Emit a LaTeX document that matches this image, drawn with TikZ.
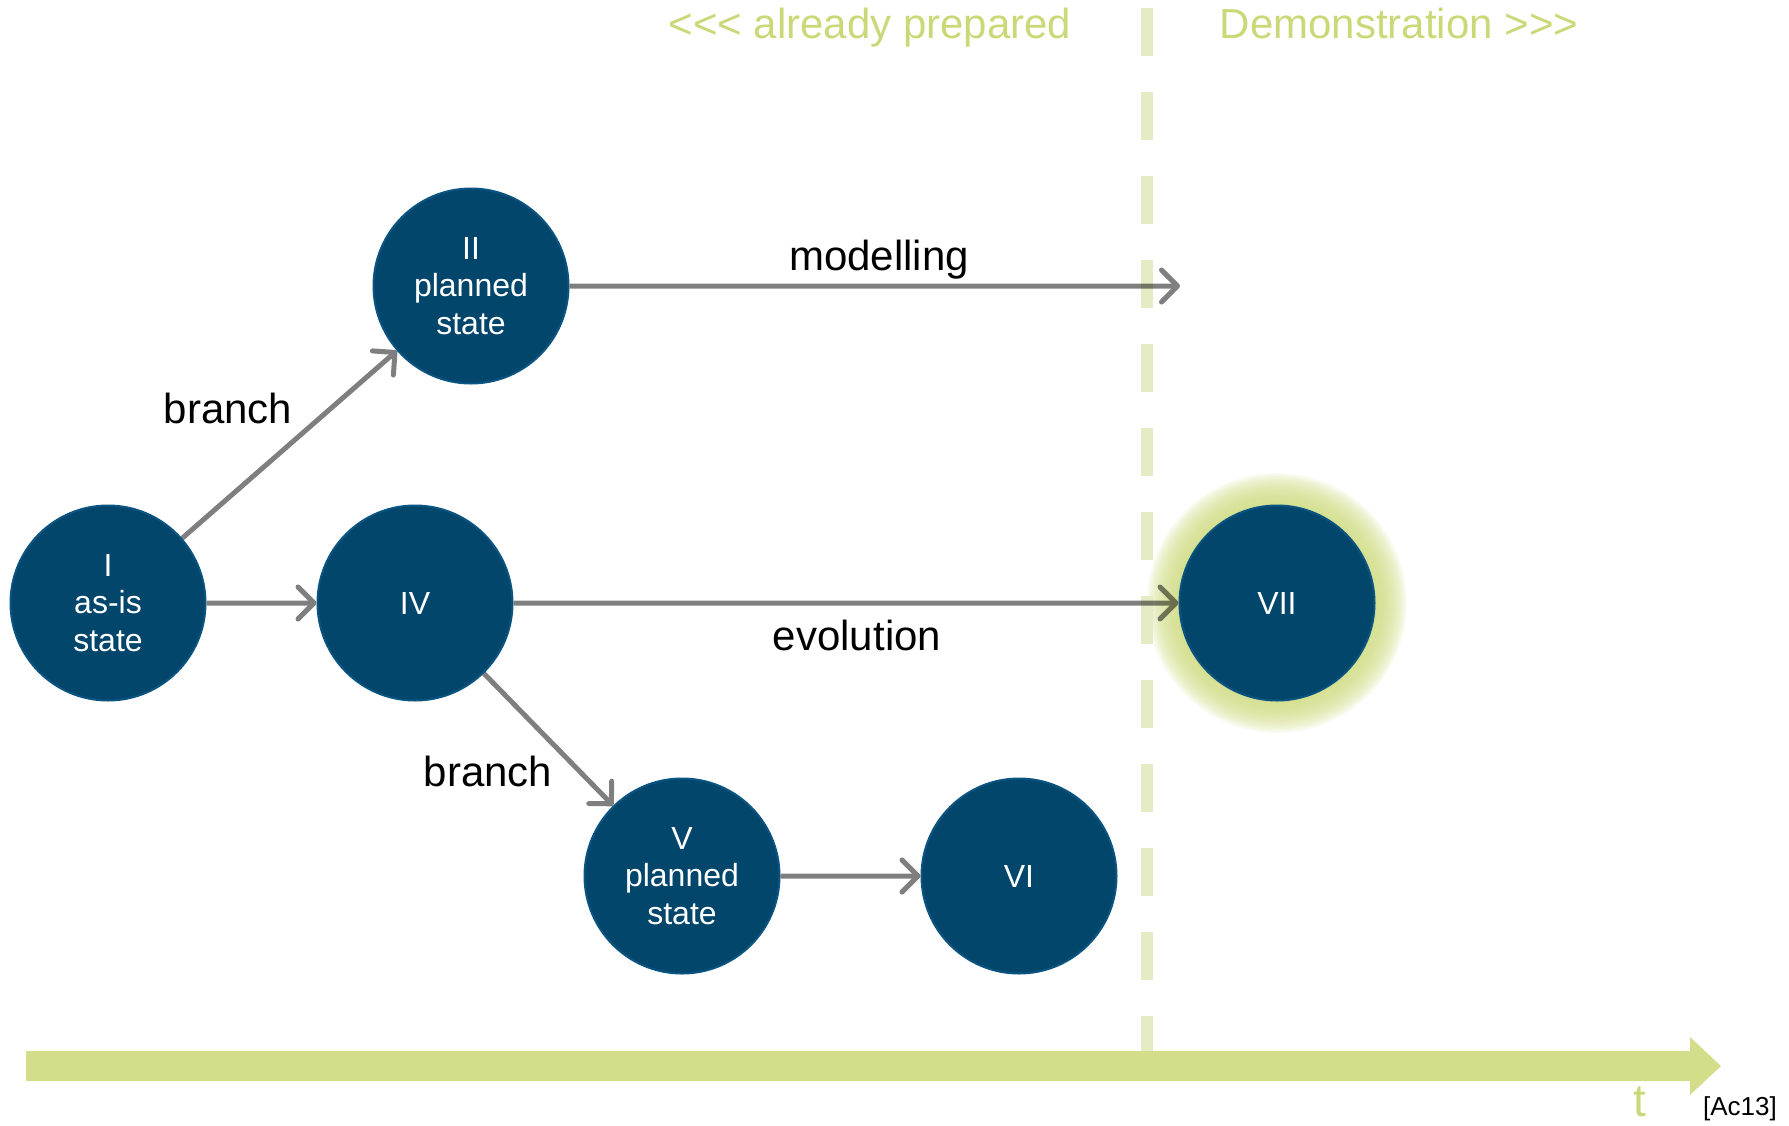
\documentclass[tikz,border=0pt]{standalone}
\usepackage{fontspec}
\setmainfont{Liberation Sans}
\usetikzlibrary{arrows.meta}
\definecolor{nodeblue}{RGB}{2,70,108}
\definecolor{nodeedge}{RGB}{10,84,130}
\definecolor{tlgreen}{RGB}{212,221,138}
\definecolor{dashgreen}{RGB}{229,235,196}
\definecolor{txtgreen}{RGB}{203,216,120}
\definecolor{glowgreen}{RGB}{208,220,132}
\begin{document}
\begin{tikzpicture}[x=0.5pt,y=-0.5pt,
  statenode/.style={circle, fill=nodeblue, draw=nodeedge, line width=1pt,
    minimum size=97.5pt, inner sep=0pt, text=white, align=center,
    font=\fontsize{16}{18.8}\selectfont},
  flow/.style={draw=black, line width=2.5pt,
    -{Straight Barb[round, length=8pt, width=16pt]}},
  lbl/.style={anchor=base, font=\fontsize{21}{25}\selectfont, text=black},
  hdr/.style={anchor=base, font=\fontsize{21}{25}\selectfont, text=txtgreen}]
\useasboundingbox (0,0) rectangle (1789,1125);

% glow behind VII
\coordinate (g) at (1277,603);
\foreach \r in {98,100,...,130}{
  \fill[glowgreen, fill opacity=0.12] (g) circle[radius=\r*0.5pt];
}

% separator and timeline
\draw[dashgreen, line width=6pt, dash pattern=on 24pt off 18pt] (1147,8) -- (1147,1051);
\fill[tlgreen] (26,1051) -- (1690,1051) -- (1690,1037) -- (1721,1066)
  -- (1690,1095) -- (1690,1081) -- (26,1081) -- cycle;

% headers
\node[hdr] (prep) at (870,38) {<\kern0pt<\kern0pt< already prepared};
\node[hdr] (demo) at (1399,38) {Demonstration >\kern0pt>\kern0pt>};
\node[anchor=base, text=txtgreen, font=\fontsize{23}{27}\selectfont] (t) at (1640,1116) {t};
\node[anchor=base, font=\fontsize{13}{15}\selectfont] (ref) at (1740,1115) {[Ac13]};

% states
\node[statenode] (I) at (108,603) {I\\as-is\\state};
\node[statenode] (II) at (471,286) {II\\planned\\state};
\node[statenode] (IV) at (415,603) {IV};
\node[statenode] (V) at (682,876) {V\\planned\\state};
\node[statenode] (VI) at (1019,876) {VI};
\node[statenode] (VII) at (1277,603) {VII};
\coordinate (mend) at (1180,286);

% arrows
\begin{scope}[transparency group, opacity=0.5]
\draw[flow] (I) -- (II);
\draw[flow] (I) -- (IV);
\draw[flow] (II) -- (mend);
\draw[flow] (IV) -- (VII);
\draw[flow] (IV) -- (V);
\draw[flow] (V) -- (VI);
\end{scope}

% labels
\node[lbl] (b1) at (228,423) {branch};
\node[lbl] (b2) at (488,786) {branch};
\node[lbl] (mod) at (879,270) {modelling};
\node[lbl] (evo) at (857,650) {evolution};
\end{tikzpicture}
\end{document}
